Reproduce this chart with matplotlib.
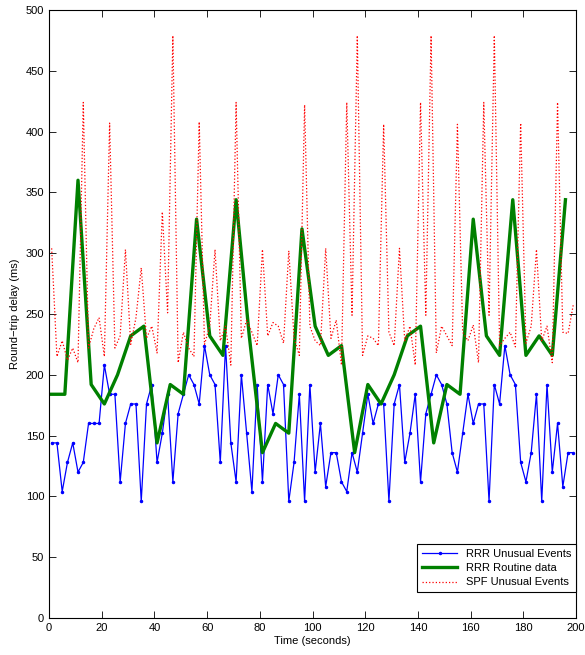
import matplotlib
matplotlib.use("Agg")
import matplotlib.pyplot as plt
import numpy as np

# sample times (s)
t_rrr = np.arange(1, 200, 2)
t_routine = np.arange(1, 200, 5)
t_spf = np.arange(1, 200, 2)

# RRR unusual events (ms)
rrr_unusual = [
    144, 144, 104, 128, 144, 120, 128, 160, 160, 160,
    208, 184, 184, 112, 160, 176, 176, 96, 176, 192,
    128, 152, 184, 112, 168, 184, 200, 192, 176, 224,
    200, 192, 128, 224, 144, 112, 200, 152, 104, 192,
    112, 192, 168, 200, 192, 96, 128, 184, 96, 192,
    120, 160, 108, 136, 136, 112, 104, 136, 120, 152,
    184, 160, 176, 176, 96, 176, 192, 128, 152, 184,
    112, 168, 184, 200, 192, 176, 136, 120, 152, 184,
    160, 176, 176, 96, 192, 176, 224, 200, 192, 128,
    112, 136, 184, 96, 192, 120, 160, 108, 136, 136,
]

# RRR routine data (ms)
rrr_routine = [
    184, 184, 360, 192, 176, 200, 232, 240, 144, 192,
    184, 328, 232, 216, 344, 232, 136, 160, 152, 320,
    240, 216, 224, 136, 192, 176, 200, 232, 240, 144,
    192, 184, 328, 232, 216, 344, 216, 232, 216, 344,
]

# SPF unusual events (ms)
spf_unusual = [
    304, 215, 228, 212, 222, 210, 424, 222, 238, 247,
    215, 407, 222, 232, 303, 225, 247, 288, 230, 240,
    218, 334, 251, 479, 210, 235, 222, 215, 408, 225,
    240, 303, 228, 240, 208, 424, 230, 245, 235, 224,
    303, 232, 243, 240, 226, 302, 230, 216, 422, 240,
    228, 224, 304, 230, 245, 208, 424, 249, 479, 216,
    232, 230, 224, 406, 235, 224, 304, 228, 240, 208,
    424, 249, 479, 218, 240, 232, 224, 406, 235, 228,
    241, 210, 424, 249, 479, 224, 230, 235, 223, 407,
    226, 240, 303, 228, 240, 210, 424, 235, 234, 258,
]

plt.rcParams["font.family"] = ["Liberation Sans", "DejaVu Sans"]
plt.rcParams["font.size"] = 8

fig = plt.figure(figsize=(5.85, 6.55), dpi=100)
ax = fig.add_axes([0.0838, 0.0565, 0.9008, 0.9282])

ax.plot(t_rrr, rrr_unusual, "-", color="blue", lw=0.9, marker=".", ms=3,
        label="RRR Unusual Events")
ax.plot(t_routine, rrr_routine, "-", color="green", lw=2.4,
        label="RRR Routine data")
ax.plot(t_spf, spf_unusual, ":", color="red", lw=0.9,
        label="SPF Unusual Events")

ax.set_xlim(0, 200)
ax.set_ylim(0, 500)
ax.set_xticks(np.arange(0, 201, 20))
ax.set_yticks(np.arange(0, 501, 50))
ax.tick_params(direction="in", top=True, right=True, length=5, width=0.6,
               labelsize=8)
for s in ax.spines.values():
    s.set_linewidth(0.8)

ax.set_xlabel("Time (seconds)", fontsize=8, labelpad=2)
ax.set_ylabel("Round\u2212trip delay (ms)", fontsize=8, labelpad=4)

leg = ax.legend(loc="lower right", bbox_to_anchor=(1.0, 0.043),
                borderaxespad=0, fancybox=False, edgecolor="black",
                framealpha=1, handlelength=3.2, labelspacing=0.4,
                fontsize=8)
leg.get_frame().set_linewidth(0.8)

fig.savefig("out.png", dpi=100)
